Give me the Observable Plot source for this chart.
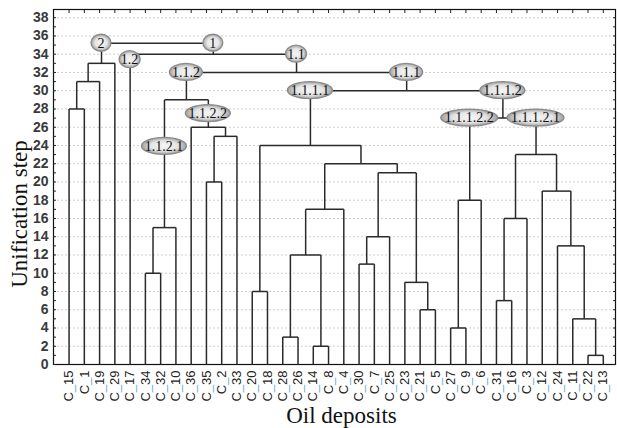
<!DOCTYPE html>
<html>
<head>
<meta charset="utf-8">
<script src="https://cdn.jsdelivr.net/npm/d3@7"></script>
<script src="https://cdn.jsdelivr.net/npm/@observablehq/plot@0.6"></script>
<style>
  html, body { margin: 0; padding: 0; background: #fff; }
  #chart svg { display: block; }
</style>
</head>
<body>
<div id="chart"></div>
<script>
// Leaf order along the x axis
const leaves = ["C_15","C_1","C_19","C_29","C_17","C_34","C_32","C_10","C_36","C_35","C_2","C_33",
  "C_20","C_18","C_28","C_26","C_14","C_8","C_4","C_30","C_7","C_25","C_23","C_21","C_5",
  "C_27","C_9","C_6","C_31","C_16","C_3","C_12","C_24","C_11","C_22","C_13"];

// Merges: [left child, right child, unification step]; "#k" refers to merge k
const merges = [
  ["C_15","C_1",28], ["#0","C_19",31], ["#1","C_29",33],
  ["C_34","C_32",10], ["#3","C_10",15],
  ["C_35","C_2",20], ["#5","C_33",25], ["C_36","#6",26],
  ["#4","#7",29],
  ["C_20","C_18",8], ["C_28","C_26",3], ["C_14","C_8",2], ["#10","#11",12], ["#12","C_4",17],
  ["C_30","C_7",11], ["#14","C_25",14], ["C_21","C_5",6], ["C_23","#16",9], ["#15","#17",21],
  ["#13","#18",22], ["#9","#19",24],
  ["C_27","C_9",4], ["#21","C_6",18],
  ["C_31","C_16",7], ["#23","C_3",16], ["C_22","C_13",1], ["C_11","#25",5], ["C_24","#26",13],
  ["C_12","#27",19], ["#24","#28",23],
  ["#22","#29",27], ["#20","#30",30], ["#8","#31",32], ["C_17","#32",34], ["#2","#33",35.2]
];

// Cluster labels: [text, node, level]
const clusterLabels = [
  ["2","#2",35.2], ["1","#33",35.2], ["1.2","C_17",33.4], ["1.1","#32",34],
  ["1.1.2","#8",32], ["1.1.1","#31",32], ["1.1.2.1","#4",23.9], ["1.1.2.2","#7",27.5],
  ["1.1.1.1","#20",30], ["1.1.1.2","#30",30], ["1.1.1.2.2","#22",27], ["1.1.1.2.1","#29",27]
];

const yTicks = d3.range(0, 39, 2);
const yMinor = d3.range(0, 39, 1);

// Build dendrogram segments
const pos = new Map(leaves.map((n, i) => [n, {x: i, y: 0}]));
const segs = [];
merges.forEach(([a, b, h], k) => {
  const A = pos.get(a), B = pos.get(b);
  segs.push({x1: A.x, y1: A.y, x2: A.x, y2: h});
  segs.push({x1: B.x, y1: B.y, x2: B.x, y2: h});
  segs.push({x1: A.x, y1: h, x2: B.x, y2: h});
  pos.set("#" + k, {x: (A.x + B.x) / 2, y: h});
});
const labelData = clusterLabels.map(([t, n, y]) => ({t, x: pos.get(n).x, y}));

const ellipses = (index, scales) => {
  const g = d3.create("svg:g");
  const grad = g.append("defs").append("radialGradient").attr("id", "ellgrad");
  grad.append("stop").attr("offset", "0%").attr("stop-color", "#f6f6f6");
  grad.append("stop").attr("offset", "60%").attr("stop-color", "#e4e4e4");
  grad.append("stop").attr("offset", "100%").attr("stop-color", "#a0a0a0");
  for (const d of labelData) {
    const cx = scales.x(d.x), cy = scales.y(d.y);
    const rx = Math.max(10, 3 * d.t.length + 1.5);
    g.append("ellipse").attr("cx", cx).attr("cy", cy).attr("rx", rx).attr("ry", 8.5)
      .attr("fill", "url(#ellgrad)").attr("stroke", "#8a8a8a").attr("stroke-width", 1.3);
    g.append("text").attr("x", cx).attr("y", cy).attr("dy", "0.35em")
      .attr("text-anchor", "middle").attr("font-family", "Liberation Serif")
      .attr("font-size", 14).attr("fill", "#111").text(d.t);
  }
  return g.node();
};

const chart = Plot.plot({
  width: 617,
  height: 428,
  marginLeft: 53,
  marginRight: 2,
  marginTop: 9,
  marginBottom: 64,
  style: {fontFamily: "Liberation Sans", background: "#fff"},
  x: {domain: [-1.02, 35.8]},
  y: {domain: [0, 38.9]},
  marks: [
    Plot.gridY(yTicks.filter(d => d > 0), {stroke: "#cfcfcf", strokeOpacity: 1, strokeDasharray: "2,2"}),
    Plot.frame({stroke: "#111", strokeWidth: 1.2}),
    Plot.axisY({ticks: yMinor, tickSize: -3, tickFormat: () => "", label: null, stroke: "#222"}),
    Plot.axisY({anchor: "right", ticks: yMinor, tickSize: -3, tickFormat: () => "", label: null, stroke: "#222"}),
    Plot.axisY({ticks: yTicks, tickSize: 0, tickPadding: 5, label: null, fontSize: 14, fontWeight: "bold", fill: "#3a3a3a"}),
    Plot.axisX({anchor: "top", ticks: d3.range(leaves.length), tickSize: -3, tickFormat: () => "", label: null, stroke: "#222"}),
    Plot.axisX({ticks: d3.range(leaves.length), tickSize: 0, tickPadding: 6, tickRotate: -90,
      tickFormat: i => leaves[i], label: null, fontSize: 13, fill: "#222"}),
    Plot.link(segs, {x1: "x1", y1: "y1", x2: "x2", y2: "y2", stroke: "#2a2a2a", strokeWidth: 1.5}),
    ellipses,
    Plot.text(["Unification step"], {frameAnchor: "left", dx: -34, dy: 27, rotate: -90,
      textAnchor: "middle", lineAnchor: "middle",
      fontFamily: "Liberation Serif", fontSize: 23, fill: "#111"}),
    Plot.text(["Oil deposits"], {frameAnchor: "bottom", dx: 7, dy: 58, lineAnchor: "bottom",
      fontFamily: "Liberation Serif", fontSize: 23, fill: "#111"})
  ]
});
document.getElementById("chart").append(chart);

// colour the underscores in the x tick labels
d3.select(chart).selectAll('g[aria-label="x-axis tick label"] text').each(function() {
  const t = this.textContent;
  if (!t.includes("_")) return;
  const [a, b] = t.split("_");
  const s = d3.select(this);
  s.text(null);
  s.append("tspan").text(a);
  s.append("tspan").attr("fill", "#5aa8dc").text("_");
  s.append("tspan").text(b);
});
</script>
</body>
</html>
